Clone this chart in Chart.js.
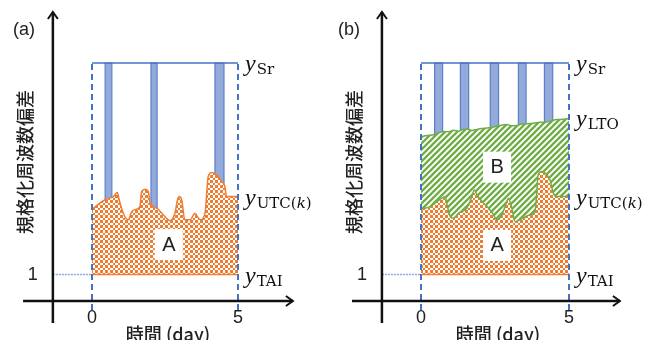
<!DOCTYPE html>
<html>
<head>
<meta charset="utf-8">
<script src="https://cdn.jsdelivr.net/npm/chart.js@4.4.1/dist/chart.umd.min.js"></script>
<style>
  html, body { margin: 0; padding: 0; background: #fff; }
  #wrap { display: flex; width: 650px; height: 340px; }
  canvas { display: block; }
</style>
</head>
<body>
<div id="wrap">
  <canvas id="chartA" width="325" height="340"></canvas>
  <canvas id="chartB" width="325" height="340"></canvas>
</div>
<script>
// normalized frequency offset vs time (day); y_TAI = 1, y_Sr = 9 (arbitrary units)
const ySr = 9;
const yTAI = 1;
const xTicks = [0, 5];
const yTicks = [1];

// panel (a)
const utcDaysA = [0, 0.45, 0.73, 0.87, 0.93, 1.07, 1.24, 1.36, 1.47, 1.64, 1.70, 1.82, 1.93, 1.99, 2.22, 2.44, 2.67, 2.84, 2.93, 2.99, 3.07, 3.18, 3.36, 3.53, 3.61, 3.72, 3.87, 3.98, 4.10, 4.27, 4.44, 4.55, 4.61, 5];
const utcValsA = [3.48, 3.83, 3.95, 4.10, 3.83, 3.32, 3.07, 3.38, 3.45, 3.57, 4.14, 4.23, 4.14, 3.71, 3.51, 3.26, 3.04, 3.32, 3.83, 3.95, 3.83, 3.07, 3.07, 3.32, 3.19, 3.07, 3.32, 4.71, 4.86, 4.77, 4.52, 4.33, 3.95, 3.95];
const srStartA = [0.45, 2.02, 4.21];
const srEndA = [0.68, 2.23, 4.52];

// panel (b)
const utcDaysB = [0, 0.31, 0.54, 0.71, 0.82, 0.88, 0.99, 1.10, 1.27, 1.55, 1.72, 1.80, 1.89, 2.06, 2.23, 2.45, 2.56, 2.73, 2.88, 2.95, 3.07, 3.18, 3.35, 3.52, 3.69, 3.86, 3.96, 4.08, 4.25, 4.36, 4.47, 4.59, 5];
const utcValsB = [3.47, 3.57, 3.76, 3.89, 3.95, 3.64, 3.19, 3.13, 3.32, 3.51, 3.95, 4.20, 4.02, 3.76, 3.57, 3.26, 3.07, 3.26, 3.70, 3.89, 3.51, 3.00, 3.07, 3.19, 3.26, 3.45, 4.77, 4.90, 4.77, 4.58, 4.08, 3.95, 3.95];
const ltoDaysB = [0, 0.2, 0.42, 0.6, 0.76, 0.95, 1.10, 1.27, 1.42, 1.55, 1.72, 1.89, 2.05, 2.23, 2.45, 2.67, 2.9, 3.05, 3.24, 3.4, 3.57, 3.8, 4.02, 4.2, 4.36, 4.59, 4.8, 5];
const ltoValsB = [6.21, 6.26, 6.29, 6.36, 6.41, 6.40, 6.46, 6.42, 6.49, 6.50, 6.45, 6.49, 6.52, 6.54, 6.58, 6.64, 6.67, 6.63, 6.64, 6.69, 6.70, 6.72, 6.76, 6.76, 6.80, 6.86, 6.87, 6.91];
const srStartB = [0.46, 1.33, 2.34, 3.29, 4.17];
const srEndB = [0.73, 1.61, 2.62, 3.55, 4.45];

const ORANGE = "#ED7D31";
const GREEN = "#70AD47";
const BLUE = "#4472C4";

function checker() {
  const c = document.createElement("canvas");
  c.width = c.height = 10;
  const g = c.getContext("2d");
  g.fillStyle = "#fff";
  g.fillRect(0, 0, 10, 10);
  g.fillStyle = ORANGE;
  const edges = [0, 3, 5, 8, 10];
  for (let i = 0; i < 4; i++) {
    for (let j = 0; j < 4; j++) {
      if ((i + j) % 2 === 0) g.fillRect(edges[i], edges[j], edges[i + 1] - edges[i], edges[j + 1] - edges[j]);
    }
  }
  return g.createPattern(c, "repeat");
}

function hatch() {
  const s = 6;
  const c = document.createElement("canvas");
  c.width = c.height = s;
  const g = c.getContext("2d");
  g.fillStyle = "#fff";
  g.fillRect(0, 0, s, s);
  g.strokeStyle = GREEN;
  g.lineWidth = 2.3;
  g.beginPath();
  g.moveTo(0, s); g.lineTo(s, 0);
  g.moveTo(-2, 2); g.lineTo(2, -2);
  g.moveTo(s - 2, s + 2); g.lineTo(s + 2, s - 2);
  g.stroke();
  return g.createPattern(c, "repeat");
}

function pts(xs, ys) {
  return xs.map((d, i) => ({ x: d, y: ys[i] }));
}

function line(data, extra) {
  return Object.assign({
    data: data,
    pointRadius: 0,
    borderWidth: 1.5,
    fill: false,
    clip: false,
    tension: 0
  }, extra);
}

function srBars(starts, ends) {
  return starts.map((s, i) => line(
    [{ x: s, y: yTAI }, { x: s, y: ySr }, { x: ends[i], y: ySr }, { x: ends[i], y: yTAI }],
    { fill: { value: yTAI }, backgroundColor: "#94AADB", borderColor: "#5A80CA", borderWidth: 1.2, order: 6 }
  ));
}

function drawLabel(ctx, x, y, sub) {
  ctx.textAlign = "left";
  ctx.textBaseline = "alphabetic";
  ctx.fillStyle = "#111";
  ctx.font = 'italic 24px "Liberation Serif", "DejaVu Serif", serif';
  ctx.fillText("y", x, y);
  let cx = x + ctx.measureText("y").width + 1;
  sub.forEach(([t, it]) => {
    ctx.font = (it ? "italic " : "") + '15px "DejaVu Serif", serif';
    ctx.fillText(t, cx, y + 3);
    cx += ctx.measureText(t).width;
  });
}

const diagram = {
  id: "diagram",
  afterDatasetsDraw(chart, args, o) {
    const { ctx, scales: { x, y } } = chart;
    const px = v => x.getPixelForValue(v);
    const py = v => y.getPixelForValue(v);
    ctx.save();

    // region boxes
    o.boxes.forEach(b => {
      const cx = px(b.x), cy = py(b.y);
      ctx.fillStyle = "#fff";
      ctx.fillRect(cx - 14, cy - 15, 28, 31);
      ctx.fillStyle = "#222";
      ctx.font = '20px "Liberation Sans", Arial, sans-serif';
      ctx.textAlign = "center";
      ctx.textBaseline = "middle";
      ctx.fillText(b.text, cx, cy + 1);
    });

    // axes with arrows
    const ax = px(o.axisX), ay = py(0);
    const xt = px(o.xTo), yt = py(o.yTo);
    ctx.strokeStyle = "#111";
    ctx.lineWidth = 2.5;
    ctx.beginPath();
    ctx.moveTo(px(o.xFrom), ay); ctx.lineTo(xt, ay);
    ctx.moveTo(ax, py(o.yFrom)); ctx.lineTo(ax, yt);
    ctx.stroke();
    ctx.lineWidth = 2;
    ctx.beginPath();
    ctx.moveTo(xt - 7, ay - 5); ctx.lineTo(xt, ay); ctx.lineTo(xt - 7, ay + 5);
    ctx.moveTo(ax - 5, yt + 7); ctx.lineTo(ax, yt); ctx.lineTo(ax + 5, yt + 7);
    ctx.stroke();

    // ticks and titles
    ctx.fillStyle = "#222";
    ctx.font = '18px "Liberation Sans", Arial, sans-serif';
    ctx.textAlign = "center";
    ctx.textBaseline = "middle";
    xTicks.forEach(t => ctx.fillText(String(t), px(t), 318));
    yTicks.forEach(t => ctx.fillText(String(t), ax - 20, py(t)));
    ctx.fillText(o.tag, 24, 30);

    ctx.font = '500 18px "Noto Sans CJK JP", sans-serif';
    ctx.fillText("時間 (day)", (px(0) + px(5)) / 2 + 3, 334);
    ctx.save();
    ctx.translate(ax - 28, 162);
    ctx.rotate(-Math.PI / 2);
    ctx.fillText("規格化周波数偏差", 0, 0);
    ctx.restore();

    o.labels.forEach(l => drawLabel(ctx, px(5) + 7, py(l.at) + 8, l.sub));
    ctx.restore();
  }
};

function makeChart(id, cfg) {
  const commonLines = [
    line(pts([0, 5], [ySr, ySr]), { borderColor: BLUE, order: 5 }),
    line(pts([0, 5], [yTAI, yTAI]), { borderColor: ORANGE, order: 1 }),
    line(pts([cfg.axisX, 0], [yTAI, yTAI]), { borderColor: "#8FAADC", borderDash: [2, 1], order: 1 }),
    line(pts([0, 0], [-0.34, ySr]), { borderColor: BLUE, borderWidth: 2, borderDash: [6, 4], order: 0 }),
    line(pts([5, 5], [-0.34, ySr]), { borderColor: BLUE, borderWidth: 2, borderDash: [6, 4], order: 0 })
  ];
  return new Chart(document.getElementById(id), {
    type: "line",
    data: { datasets: cfg.datasets.concat(commonLines) },
    options: {
      responsive: false,
      animation: false,
      events: [],
      layout: { padding: cfg.padding },
      scales: {
        x: { type: "linear", min: 0, max: 5, display: false },
        y: { type: "linear", min: 0, max: ySr, display: false }
      },
      plugins: {
        legend: { display: false },
        tooltip: { enabled: false },
        diagram: cfg.diagram
      }
    },
    plugins: [diagram]
  });
}

const utcSub = [["UTC(", false], ["k", true], [")", false]];

makeChart("chartA", {
  axisX: -1.34,
  padding: { left: 92, right: 87, top: 63, bottom: 39 },
  datasets: srBars(srStartA, srEndA).concat([
    line(pts(utcDaysA, utcValsA), {
      fill: { value: yTAI }, backgroundColor: checker(), borderColor: ORANGE,
      cubicInterpolationMode: "monotone", order: 2
    })
  ]),
  diagram: {
    tag: "(a)", axisX: -1.34, xFrom: -2.36, xTo: 6.88, yFrom: -0.83, yTo: 10.93,
    boxes: [{ text: "A", x: 2.63, y: 2.15 }],
    labels: [
      { at: ySr, sub: [["Sr", false]] },
      { at: utcValsA[utcValsA.length - 1], sub: utcSub },
      { at: yTAI, sub: [["TAI", false]] }
    ]
  }
});

makeChart("chartB", {
  axisX: -1.32,
  padding: { left: 96, right: 81, top: 63, bottom: 39 },
  datasets: srBars(srStartB, srEndB).concat([
    line(pts(ltoDaysB, ltoValsB), {
      fill: { value: yTAI }, backgroundColor: hatch(), borderColor: GREEN,
      cubicInterpolationMode: "monotone", order: 3
    }),
    line(pts(utcDaysB, utcValsB), {
      fill: { value: yTAI }, backgroundColor: checker(), borderColor: GREEN,
      cubicInterpolationMode: "monotone", order: 2
    })
  ]),
  diagram: {
    tag: "(b)", axisX: -1.32, xFrom: -2.33, xTo: 6.72, yFrom: -0.83, yTo: 10.93,
    boxes: [{ text: "B", x: 2.57, y: 5.08 }, { text: "A", x: 2.57, y: 2.12 }],
    labels: [
      { at: ySr, sub: [["Sr", false]] },
      { at: ltoValsB[ltoValsB.length - 1], sub: [["LTO", false]] },
      { at: utcValsB[utcValsB.length - 1], sub: utcSub },
      { at: yTAI, sub: [["TAI", false]] }
    ]
  }
});
</script>
</body>
</html>
